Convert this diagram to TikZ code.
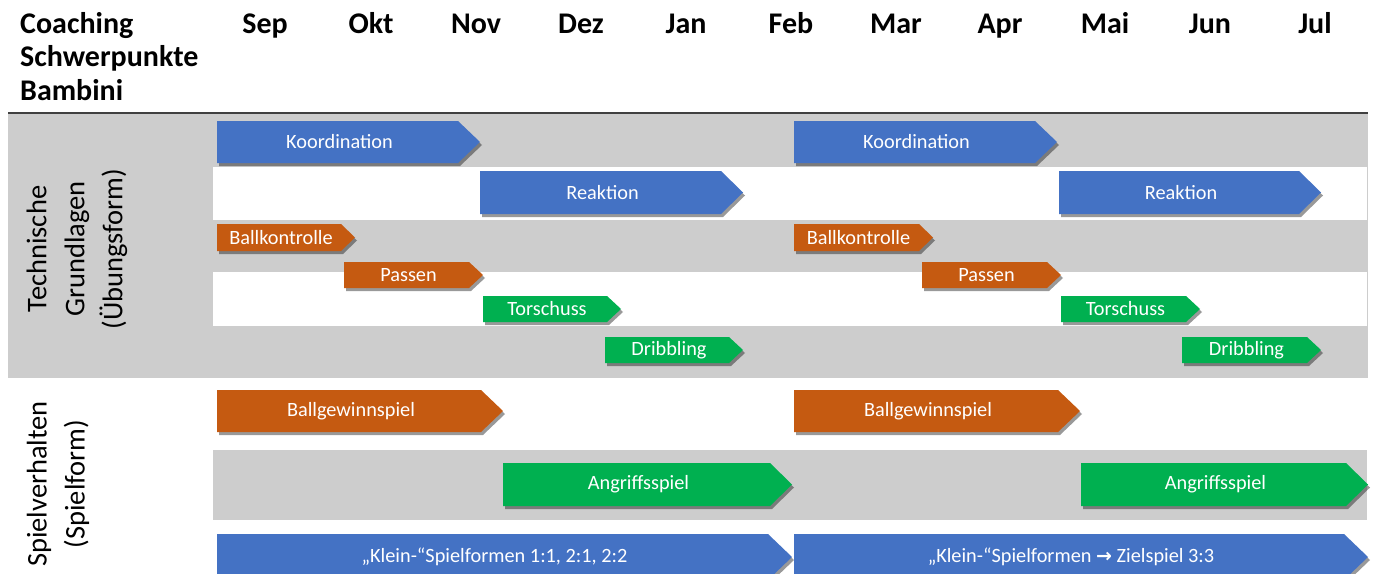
\documentclass[tikz,border=0pt]{standalone}
\usepackage{fontspec}
\setmainfont{Carlito}
\newfontfamily\arrowfont{DejaVu Sans}
\usetikzlibrary{shadows}
\definecolor{cblue}{HTML}{4472C4}
\definecolor{corange}{HTML}{C55A11}
\definecolor{cgreen}{HTML}{00B050}
\definecolor{cgray}{HTML}{CDCDCD}
\tikzset{
  lbl/.style={text=white, font=\fontsize{20.3}{24}\selectfont, inner sep=0pt},
  month/.style={font=\fontsize{30}{36}\selectfont\bfseries, anchor=base},
  sidelbl/.style={font=\fontsize{28.5}{38}\selectfont, align=center, rotate=90, inner sep=0pt},
  shad/.style={drop shadow={shadow xshift=2pt, shadow yshift=-3pt, opacity=0.4, fill=black}},
}
% #1 name, #2 colour, #3 x1, #4 y1, #5 x2, #6 y2, #7 tip, #8 label
\newcommand\chev[8]{%
  \fill[#2, shad] (#3,#4) -- ({#5-#7},#4) -- (#5,{(#4+#6)/2}) -- ({#5-#7},#6) -- (#3,#6) -- cycle;
  \node[lbl] (#1) at ({(#3+#5-#7)/2+2},{(#4+#6)/2}) {#8};}
\begin{document}
\begin{tikzpicture}[x=1pt,y=-1pt]
\useasboundingbox (0,0) rectangle (1373,573);
\fill[white] (0,0) rectangle (1373,573);
% backgrounds
\fill[cgray] (8,114) rectangle (1368,378);
\fill[white] (213,167) rectangle (1367,220);
\fill[white] (213,272) rectangle (1367,326);
\fill[cgray] (213,450) rectangle (1367,520);
\draw[line width=1.6pt, black!75] (8,113) -- (1368,113);
% header
\node[font=\fontsize{30}{33.5}\selectfont\bfseries, align=left, anchor=north west, inner sep=0pt] (title) at (20,12) {Coaching\\Schwerpunkte\\Bambini};
\node[month] (m1) at (265,33) {Sep};
\node[month] (m2) at (371,33) {Okt};
\node[month] (m3) at (476,33) {Nov};
\node[month] (m4) at (581,33) {Dez};
\node[month] (m5) at (686,33) {Jan};
\node[month] (m6) at (791,33) {Feb};
\node[month] (m7) at (896,33) {Mar};
\node[month] (m8) at (1000,33) {Apr};
\node[month] (m9) at (1105,33) {Mai};
\node[month] (m10) at (1210,33) {Jun};
\node[month] (m11) at (1315,33) {Jul};
% side labels
\node[sidelbl] (tg) at (77,249) {Technische\\Grundlagen\\(Übungsform)};
\node[sidelbl] (sv) at (58,484) {Spielverhalten\\(Spielform)};
% arrows
\chev{koord1}{cblue}{217}{121}{480}{163}{22}{Koordination}
\chev{koord2}{cblue}{794}{121}{1057}{163}{22}{Koordination}
\chev{reak1}{cblue}{480}{171}{743}{214}{22}{Reaktion}
\chev{reak2}{cblue}{1059}{171}{1321}{214}{22}{Reaktion}
\chev{ball1}{corange}{217}{224}{355}{251}{14}{Ballkontrolle}
\chev{ball2}{corange}{794}{224}{933}{251}{14}{Ballkontrolle}
\chev{pass1}{corange}{344}{262}{483}{288}{14}{Passen}
\chev{pass2}{corange}{922}{262}{1061}{288}{14}{Passen}
\chev{tor1}{cgreen}{483}{296}{621}{322}{14}{Torschuss}
\chev{tor2}{cgreen}{1061}{296}{1200}{322}{14}{Torschuss}
\chev{drib1}{cgreen}{605}{337}{743}{363}{14}{Dribbling}
\chev{drib2}{cgreen}{1182}{337}{1321}{363}{14}{Dribbling}
\chev{bgs1}{corange}{217}{390}{503}{432}{22}{Ballgewinnspiel}
\chev{bgs2}{corange}{794}{390}{1080}{432}{22}{Ballgewinnspiel}
\chev{ang1}{cgreen}{503}{463}{792}{506}{22}{Angriffsspiel}
\chev{ang2}{cgreen}{1081}{463}{1368}{506}{22}{Angriffsspiel}
\chev{klein1}{cblue}{217}{534}{792}{580}{24}{„Klein-“Spielformen 1:1, 2:1, 2:2}
\chev{klein2}{cblue}{794}{534}{1368}{580}{24}{„Klein-“Spielformen {\arrowfont\bfseries\fontsize{19}{22}\selectfont →} Zielspiel 3:3}
\end{tikzpicture}
\end{document}
